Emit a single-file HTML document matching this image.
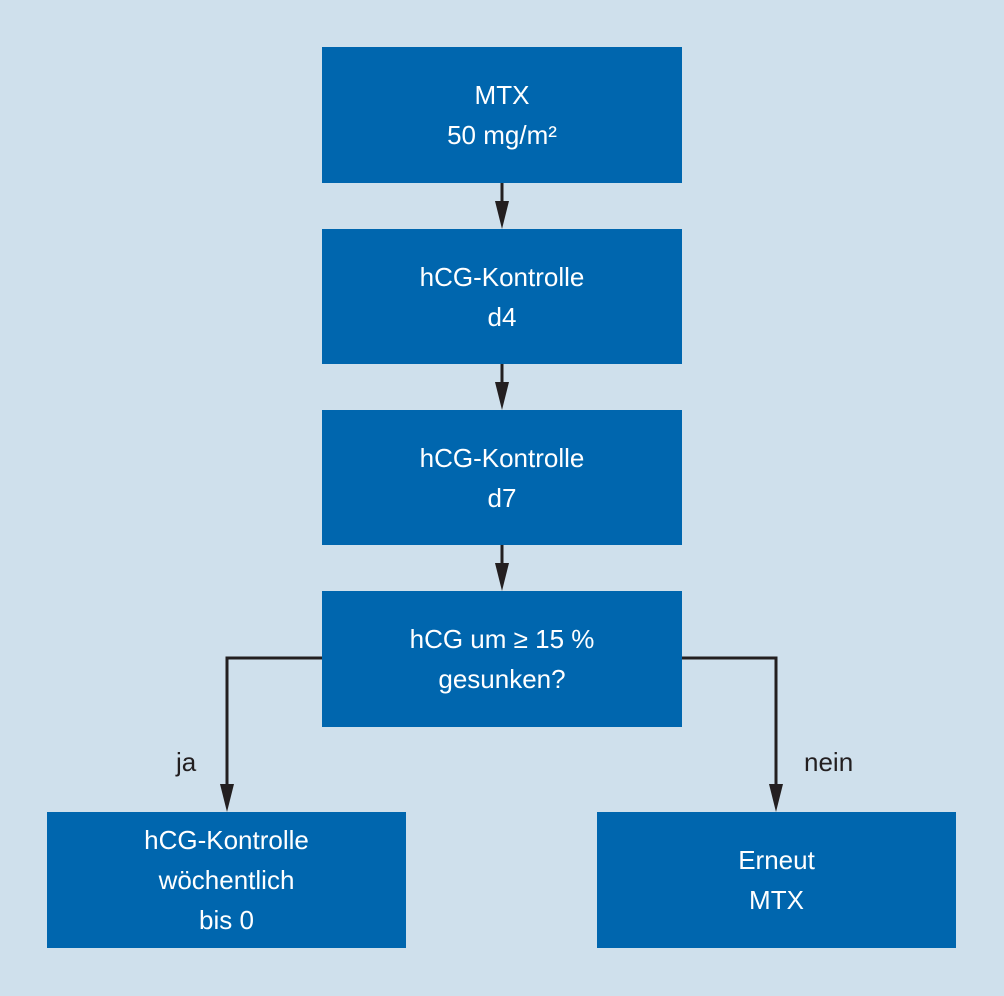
<!DOCTYPE html>
<html><head><meta charset="utf-8"><style>
html,body{margin:0;padding:0}
body{width:1004px;height:996px;background:#cfe0ec;position:relative;font-family:"Liberation Sans",sans-serif;overflow:hidden}
.b{position:absolute;background:#0066ae;color:#fff;display:flex;align-items:center;justify-content:center;text-align:center;font-size:26px;line-height:40px}
.l{position:absolute;font-size:26px;color:#231f20}
svg{position:absolute;left:0;top:0}
</style></head><body>
<svg width="1004" height="996">
<g stroke="#231f20" stroke-width="3" fill="none">
<line x1="502" y1="183" x2="502" y2="205"/>
<line x1="502" y1="364" x2="502" y2="386"/>
<line x1="502" y1="545" x2="502" y2="567"/>
<polyline points="322,658 227,658 227,786"/>
<polyline points="682,658 776,658 776,786"/>
</g>
<g fill="#231f20">
<polygon points="495,201 509,201 502,229"/>
<polygon points="495,382 509,382 502,410"/>
<polygon points="495,563 509,563 502,591"/>
<polygon points="220,784 234,784 227,812"/>
<polygon points="769,784 783,784 776,812"/>
</g>
</svg>
<div class="b" style="left:322px;top:47px;width:360px;height:136px">MTX<br>50 mg/m²</div>
<div class="b" style="left:322px;top:229px;width:360px;height:135px">hCG-Kontrolle<br>d4</div>
<div class="b" style="left:322px;top:410px;width:360px;height:135px">hCG-Kontrolle<br>d7</div>
<div class="b" style="left:322px;top:591px;width:360px;height:136px">hCG um ≥ 15 %<br>gesunken?</div>
<div class="b" style="left:47px;top:812px;width:359px;height:136px">hCG-Kontrolle<br>wöchentlich<br>bis 0</div>
<div class="b" style="left:597px;top:812px;width:359px;height:136px">Erneut<br>MTX</div>
<div class="l" style="left:176px;top:747px">ja</div>
<div class="l" style="left:804px;top:747px">nein</div>
</body></html>
